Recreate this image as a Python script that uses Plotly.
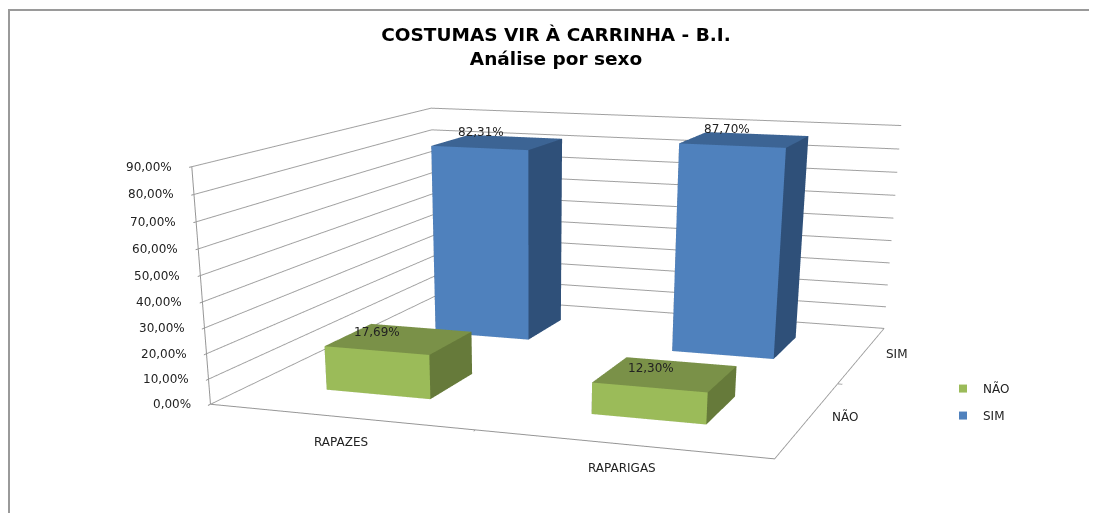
import plotly.graph_objects as go

categories = ["RAPAZES", "RAPARIGAS"]
series_names = ["NÃO", "SIM"]
nao_values = [17.69, 12.30]
sim_values = [82.31, 87.70]
nao_labels = ["17,69%", "12,30%"]
sim_labels = ["82,31%", "87,70%"]
ticks = [0, 10, 20, 30, 40, 50, 60, 70, 80, 90]
tick_labels = ["0,00%", "10,00%", "20,00%", "30,00%", "40,00%", "50,00%", "60,00%", "70,00%", "80,00%", "90,00%"]
face_colors = {"NÃO": ("#9BBB59", "#667A3A", "#7A9148"), "SIM": ("#4F81BD", "#2F5079", "#3C6494")}

# Page geometry: the body margin offsets the figure by 8 px. The scene is taller
# than the window so that the long-lens perspective of the original is reproduced.
OFF = 8
W = 1089.0
H = 1460.786
SCENE_W = 1049.29

XR = [-0.4917, 1.5075]
YR = [-0.5171, 1.4878]
ZR = [0, 90]
HWX = 0.2017
HWY = 0.1966


def px(x):
    return (x - OFF) / W


def py(y):
    return 1 - (y - OFF) / H


def bar(cx, cy, h, name):
    front, side, top = face_colors[name]
    x0, x1, y0, y1 = cx - HWX, cx + HWX, cy - HWY, cy + HWY
    xs = [x0, x1, x1, x0, x0, x1, x1, x0]
    ys = [y0, y0, y1, y1, y0, y0, y1, y1]
    zs = [0, 0, 0, 0, h, h, h, h]
    i = [0, 0, 4, 4, 0, 0, 1, 1, 2, 2, 3, 3]
    j = [1, 2, 5, 6, 1, 5, 2, 6, 3, 7, 0, 4]
    k = [2, 3, 6, 7, 5, 4, 6, 5, 7, 6, 4, 7]
    fc = [top, top, top, top, front, front, side, side, side, side, side, side]
    return go.Mesh3d(x=xs, y=ys, z=zs, i=i, j=j, k=k, facecolor=fc, flatshading=True, name=name,
                     lighting=dict(ambient=1, diffuse=0, specular=0, roughness=1, fresnel=0),
                     hoverinfo="skip", showlegend=False)


fig = go.Figure()
for y, name, vals in [(1, "SIM", sim_values), (0, "NÃO", nao_values)]:
    for c, v in enumerate(vals):
        fig.add_trace(bar(c, y, v, name))

for name in series_names:
    fig.add_trace(go.Scatter(x=[None], y=[None], mode="markers", name=name, legendgroup=name,
                             marker=dict(symbol="square", size=8, color=face_colors[name][0])))

axis_common = dict(showbackground=False, showgrid=False, showline=True, linecolor="#969696", linewidth=2, zeroline=False,
                   showspikes=False, title="", ticks="outside", ticklen=4, tickcolor="#969696", tickwidth=2,
                   showticklabels=False)
font12 = dict(family="DejaVu Sans", size=12, color="#222")

labels = []


def ann(x, y, z, text, xshift, yshift, **kw):
    labels.append(dict(x=x, y=y, z=z, text=text, showarrow=False, xshift=xshift, yshift=yshift, font=font12, **kw))


data_shifts = {(0, 0): (-22, 7), (1, 0): (-15, 6), (0, 1): (-17, 10), (1, 1): (-18, 11)}
for y, vals, labs in [(0, nao_values, nao_labels), (1, sim_values, sim_labels)]:
    for c, (v, t) in enumerate(zip(vals, labs)):
        ann(c, y, v, t, *data_shifts[(c, y)])
ann(0, YR[0], 0, categories[0], 2, -25)
ann(1, YR[0], 0, categories[1], 2, -24)
ann(XR[1], 0, 0, series_names[0], 36, 1)
ann(XR[1], 1, 0, series_names[1], 34, 0)
for t, lab in zip(ticks, tick_labels):
    ann(XR[0], YR[0], t, lab, -18, 0, xanchor="right")

fig.update_layout(
    width=W, height=H, margin=dict(l=0, r=0, t=0, b=0), paper_bgcolor="white", plot_bgcolor="white",
    template="none",
    font=dict(family="DejaVu Sans", color="#222"),
    title=dict(text="<b>COSTUMAS VIR À CARRINHA - B.I.<br>Análise por sexo</b>", x=px(556), xanchor="center",
               y=py(41), yanchor="top", font=dict(family="DejaVu Sans", size=18.5, color="black")),
    xaxis=dict(visible=False), yaxis=dict(visible=False),
    legend=dict(x=px(943), y=py(374), xanchor="left", yanchor="top", font=font12, tracegroupgap=8,
                bgcolor="rgba(0,0,0,0)"),
    scene=dict(
        domain=dict(x=[0, SCENE_W / W], y=[0, 1]),
        xaxis=dict(axis_common, range=XR, tickvals=[0.5]),
        yaxis=dict(axis_common, range=YR, tickvals=[0.5]),
        zaxis=dict(axis_common, range=ZR, tickvals=ticks, showgrid=True, gridcolor="#a0a0a0", gridwidth=2),
        aspectmode="manual", aspectratio=dict(x=2.52, y=2.5621, z=1),
        camera=dict(eye=dict(x=2.6566, y=-7.9851, z=1.4581), up=dict(x=-0.0022, y=0.0006, z=1),
                    center=dict(x=0.4033, y=-1.7266, z=-1.6602), projection=dict(type="perspective")),
        annotations=labels,
    ),
    shapes=[dict(type="rect", xref="paper", yref="paper", x0=1 / W, x1=1.1, y0=-0.1, y1=py(10),
                 line=dict(color="#9a9a9a", width=2))],
)
fig.write_html("out.html")
